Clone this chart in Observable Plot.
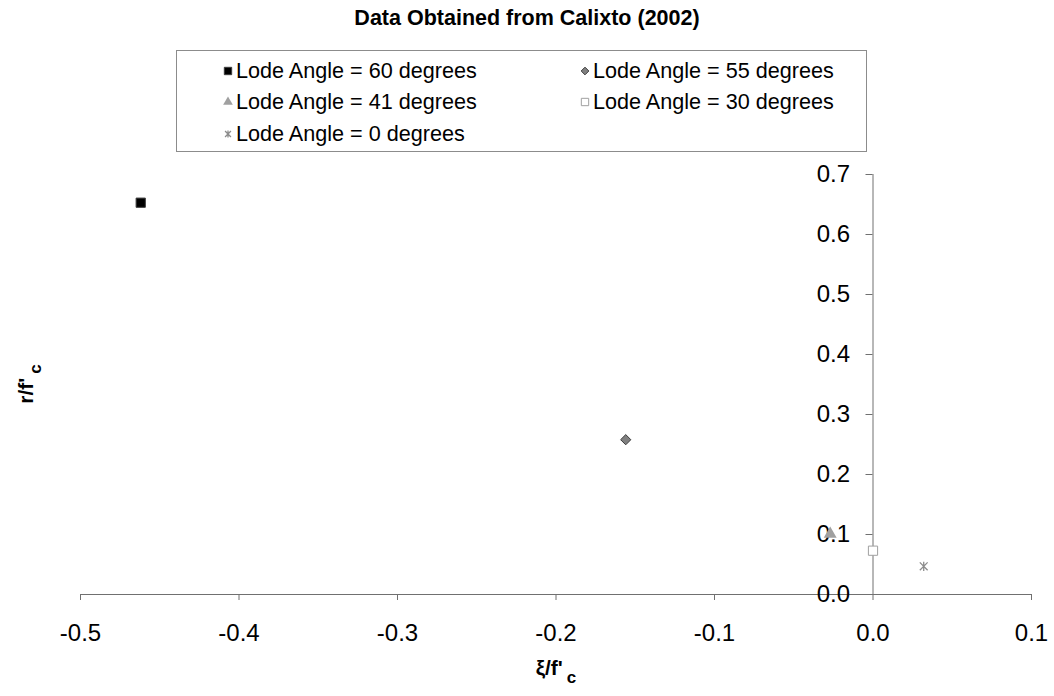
<!DOCTYPE html>
<html><head><meta charset="utf-8">
<script src="https://cdn.jsdelivr.net/npm/d3@7"></script>
<script src="https://cdn.jsdelivr.net/npm/@observablehq/plot@0.6"></script>
<style>
body{margin:0;background:#fff;font-family:"Liberation Sans",Arial,sans-serif;}
#wrap{position:relative;width:1054px;height:696px;}
#chart{position:absolute;left:0;top:0;}
#title{position:absolute;left:0;top:6px;width:1054px;text-align:center;font-weight:bold;font-size:21.5px;line-height:24px;}
#legend{position:absolute;left:176px;top:50px;width:689px;height:100px;border:1px solid #8c8c8c;}
.item{position:absolute;font-size:21.6px;line-height:24px;height:24px;display:flex;align-items:center;white-space:nowrap;}
.item svg{margin-right:2px;}
</style></head>
<body><div id="wrap"><div id="chart"></div><div id="title">Data Obtained from Calixto (2002)</div><div id="legend"></div></div>
<script>
// ---- data ----
const seriesNames = [
  "Lode Angle = 60 degrees",
  "Lode Angle = 55 degrees",
  "Lode Angle = 41 degrees",
  "Lode Angle = 30 degrees",
  "Lode Angle = 0 degrees"
];
const xiValues = [-0.462, -0.156, -0.027, 0.0, 0.032];
const rValues  = [0.653, 0.258, 0.101, 0.073, 0.047];
const xTicks = [-0.5, -0.4, -0.3, -0.2, -0.1, 0.0, 0.1];
const yTicks = [0.0, 0.1, 0.2, 0.3, 0.4, 0.5, 0.6, 0.7];
const titleText = "Data Obtained from Calixto (2002)";

// ---- styles ----
const starSymbol = {
  draw(ctx, size) {
    const s = Math.sqrt(size / Math.PI);
    const d = s * 0.85;
    ctx.moveTo(-d, -d); ctx.lineTo(d, d);
    ctx.moveTo(-d, d); ctx.lineTo(d, -d);
    ctx.moveTo(0, -s); ctx.lineTo(0, s);
  }
};
const symbols = ["square", "diamond2", "triangle", "square", starSymbol];
const radii = [5.2, 4.6, 4.8, 5.2, 4.6];
const fills = ["#000000", "#808080", "#a0a0a0", "#ffffff", "none"];
const strokes = ["#3a3a3a", "#3c3c3c", "none", "#a0a0a0", "#8c8c8c"];
const strokeWidths = [1, 1, 0, 1, 1.3];

const idx = d3.range(seriesNames.length);
document.getElementById("title").textContent = titleText;

const chart = Plot.plot({
  width: 1054,
  height: 696,
  marginTop: 174,
  marginBottom: 102,
  marginLeft: 80,
  marginRight: 23,
  x: {domain: [xTicks[0], xTicks[xTicks.length - 1]]},
  y: {domain: [yTicks[0], yTicks[yTicks.length - 1]]},
  style: {fontFamily: '"Liberation Sans", Arial, sans-serif', fontSize: "24px", color: "#000", background: "#fff"},
  marks: [
    Plot.ruleY([0], {stroke: "#707070"}),
    Plot.ruleX([0], {stroke: "#707070"}),
    Plot.axisX({ticks: xTicks, tickFormat: d => d.toFixed(1), tickSize: 6, tickPadding: 23, stroke: "#707070", fill: "#000", label: null}),
    Plot.axisY({x: 0, anchor: "left", ticks: yTicks, tickFormat: d => d.toFixed(1), tickSize: 7, tickPadding: 16, stroke: "#707070", fill: "#000", label: null}),
    ...idx.map(i => Plot.dot([i], {
      x: j => xiValues[j],
      y: j => rValues[j],
      symbol: symbols[i],
      r: radii[i],
      fill: fills[i],
      stroke: strokes[i],
      strokeWidth: strokeWidths[i]
    }))
  ]
});
document.getElementById("chart").appendChild(chart);

// axis titles with subscripts
const svg = d3.select(chart);
const xl = svg.append("text")
  .attr("x", 556).attr("y", 675)
  .attr("text-anchor", "middle")
  .attr("font-weight", "bold").attr("font-size", 21);
xl.append("tspan").text("ξ/f'");
xl.append("tspan").attr("dx", 4).attr("dy", 8).attr("font-size", 17).text("c");

const yl = svg.append("text")
  .attr("transform", "translate(33,384) rotate(-90)")
  .attr("text-anchor", "middle")
  .attr("font-weight", "bold").attr("font-size", 21);
yl.append("tspan").text("r/f'");
yl.append("tspan").attr("dx", 4).attr("dy", 8).attr("font-size", 17).text("c");

// legend
const legend = d3.select("#legend");
const pos = [[45, 8], [402, 8], [45, 39], [402, 39], [45, 71]];
idx.forEach(i => {
  const item = legend.append("div").attr("class", "item")
    .style("left", pos[i][0] + "px").style("top", pos[i][1] + "px");
  const s = item.append("svg").attr("width", 12).attr("height", 12);
  const sym = typeof symbols[i] === "string"
    ? {square: d3.symbolSquare, diamond2: d3.symbolDiamond2, triangle: d3.symbolTriangle}[symbols[i]]
    : symbols[i];
  const scale = i === 0 || i === 3 ? 0.8 : 0.75;
  s.append("path")
    .attr("transform", "translate(6,6)")
    .attr("d", d3.symbol(sym, Math.PI * (radii[i] * scale) ** 2)())
    .attr("fill", fills[i]).attr("stroke", strokes[i]).attr("stroke-width", strokeWidths[i]);
  item.append("span").text(seriesNames[i]);
});
</script>
</body></html>
